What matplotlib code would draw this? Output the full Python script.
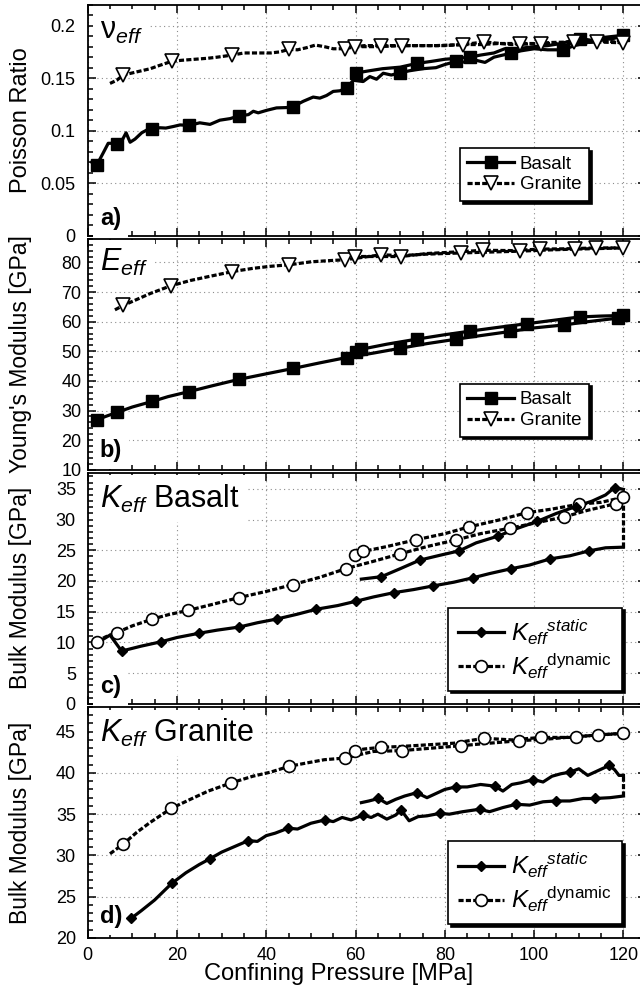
import matplotlib
matplotlib.use("Agg")
import matplotlib.pyplot as plt
import matplotlib.ticker as mpltick
from matplotlib.lines import Line2D

plt.rcParams["font.family"] = ["Liberation Sans", "DejaVu Sans"]
plt.rcParams["mathtext.fontset"] = "custom"
plt.rcParams["mathtext.rm"] = "Liberation Sans"
plt.rcParams["mathtext.it"] = "Liberation Sans:italic"
plt.rcParams["mathtext.bf"] = "Liberation Sans:bold"

# ---------------- a) Poisson ratio ----------------
a_bas_load_x = [0.9, 2.0, 3.5, 4.6, 5.8, 6.6, 7.6, 8.6, 9.5, 10.6, 12.1, 13.4, 14.5, 16.2, 17.5, 19.2,
                20.7, 22.7, 25.1, 27.4, 29.6, 31.9, 33.8, 36.0, 37.1, 38.2, 40.1, 42.3, 44.5, 46.0,
                48.3, 50.5, 52.0, 53.5, 55.0, 56.5, 58.0, 59.5, 61.7, 63.2, 64.7, 66.2, 68.0, 69.9,
                72.0, 75.0, 78.0, 80.0, 82.6, 85.0, 87.0, 89.0, 91.0, 93.0, 94.9, 97.0, 100.0, 103.0,
                106.5, 109.0, 112.0, 115.0, 118.0, 119.9]
a_bas_load_y = [0.070, 0.067, 0.079, 0.088, 0.088, 0.087, 0.090, 0.098, 0.089, 0.092, 0.098, 0.101,
                0.102, 0.1028, 0.1025, 0.104, 0.1055, 0.105, 0.1075, 0.106, 0.110, 0.1115, 0.114,
                0.1153, 0.1185, 0.117, 0.1194, 0.1217, 0.122, 0.123, 0.128, 0.132, 0.131, 0.1335,
                0.1374, 0.138, 0.1405, 0.148, 0.1468, 0.1515, 0.149, 0.1547, 0.153, 0.155, 0.157,
                0.159, 0.160, 0.163, 0.166, 0.165, 0.167, 0.165, 0.170, 0.172, 0.1736, 0.176, 0.178,
                0.177, 0.177, 0.181, 0.184, 0.186, 0.188, 0.1908]
a_bas_unl_x = [119.9, 116.0, 113.0, 110.2, 106.0, 103.0, 100.0, 96.0, 93.4, 91.0, 88.0, 85.6, 83.0,
               80.0, 77.0, 73.7, 70.0, 66.0, 63.0, 60.2]
a_bas_unl_y = [0.1908, 0.189, 0.186, 0.1877, 0.183, 0.181, 0.180, 0.178, 0.178, 0.174, 0.172, 0.170,
               0.169, 0.168, 0.166, 0.164, 0.1605, 0.159, 0.157, 0.155]
a_bas_mk_x = [2.0, 6.6, 14.5, 22.7, 33.8, 46.0, 58.0, 60.2, 69.9, 73.7, 82.6, 85.6, 94.9, 106.5, 110.2, 119.9]
a_bas_mk_y = [0.067, 0.087, 0.102, 0.105, 0.114, 0.123, 0.1405, 0.155, 0.155, 0.164, 0.166, 0.170,
              0.1736, 0.177, 0.1877, 0.1908]

a_gra_load_x = [5.0, 6.5, 8.0, 10.0, 12.0, 14.0, 16.0, 18.8, 21.0, 24.0, 27.0, 29.0, 32.4, 35.0, 38.0,
                41.0, 43.0, 45.1, 47.0, 49.0, 51.0, 53.0, 55.0, 57.6, 60.0, 62.0, 65.8, 70.0, 75.0,
                80.0, 84.0, 88.0, 92.0, 96.8, 100.0, 104.0, 109.0, 113.0, 117.0, 120.0]
a_gra_load_y = [0.145, 0.148, 0.153, 0.155, 0.157, 0.159, 0.162, 0.166, 0.167, 0.168, 0.169, 0.170,
                0.172, 0.174, 0.174, 0.174, 0.175, 0.1774, 0.177, 0.179, 0.1815, 0.180, 0.178, 0.178,
                0.180, 0.181, 0.181, 0.181, 0.181, 0.181, 0.182, 0.182, 0.183, 0.183, 0.183, 0.184,
                0.1845, 0.185, 0.185, 0.1836]
a_gra_unl_x = [120.0, 114.0, 108.0, 101.5, 95.0, 88.8, 84.0, 78.0, 72.0, 70.4, 65.0, 59.8]
a_gra_unl_y = [0.1836, 0.1845, 0.183, 0.183, 0.182, 0.1845, 0.182, 0.181, 0.181, 0.181, 0.180, 0.180]
a_gra_mk_x = [8.0, 18.8, 32.4, 45.1, 57.6, 59.8, 65.8, 70.4, 84.0, 88.8, 96.8, 101.5, 109.0, 114.0, 120.0]
a_gra_mk_y = [0.153, 0.166, 0.172, 0.1774, 0.178, 0.180, 0.181, 0.181, 0.182, 0.1845, 0.183, 0.183,
              0.1845, 0.1845, 0.1836]

# ---------------- b) Young's modulus ----------------
b_bas_load_x = [1.3, 2.0, 4.0, 6.6, 10.0, 14.5, 18.0, 22.7, 28.0, 33.8, 40.0, 46.0, 52.0, 58.0, 64.0,
                69.9, 76.0, 82.6, 88.0, 94.7, 100.0, 106.7, 112.0, 118.8, 120.0]
b_bas_load_y = [26.3, 26.8, 28.0, 29.4, 31.2, 33.1, 34.7, 36.4, 38.4, 40.5, 42.4, 44.2, 46.1, 47.9,
                49.4, 51.0, 52.6, 54.1, 55.3, 56.7, 57.9, 58.9, 60.0, 61.2, 61.6]
b_bas_unl_x = [120.0, 115.0, 110.2, 104.0, 98.3, 92.0, 85.6, 80.0, 73.7, 67.0, 61.3, 60.2]
b_bas_unl_y = [62.1, 61.9, 61.6, 60.4, 59.3, 58.1, 56.8, 55.6, 54.1, 52.4, 50.7, 49.6]
b_bas_mk_x = [2.0, 6.6, 14.5, 22.7, 33.8, 46.0, 58.0, 60.2, 61.3, 69.9, 73.7, 82.6, 85.6, 94.7, 98.3,
              106.7, 110.2, 118.8, 120.0]
b_bas_mk_y = [26.8, 29.4, 33.1, 36.4, 40.5, 44.2, 47.9, 49.6, 50.7, 51.0, 54.1, 54.1, 56.8, 56.7, 59.3,
              58.9, 61.6, 61.2, 62.1]

b_gra_load_x = [6.1, 8.0, 11.0, 14.0, 18.6, 23.0, 27.0, 32.4, 37.0, 41.0, 45.1, 50.0, 54.0, 57.6, 62.0,
                65.8, 70.0, 76.0, 83.7, 90.0, 96.8, 103.0, 109.1, 115.0, 119.9]
b_gra_load_y = [64.0, 65.5, 67.5, 69.5, 72.1, 73.9, 75.2, 76.9, 78.0, 78.7, 79.2, 80.2, 80.6, 80.9,
                81.8, 82.6, 82.3, 82.8, 83.2, 83.5, 83.8, 84.2, 84.5, 84.7, 84.9]
b_gra_unl_x = [119.9, 113.9, 107.0, 101.3, 95.0, 88.6, 82.0, 76.0, 70.2, 65.0, 59.8]
b_gra_unl_y = [84.9, 84.9, 84.6, 84.5, 84.0, 84.1, 83.5, 83.0, 82.0, 82.0, 82.0]
b_gra_mk_x = [8.0, 18.6, 32.4, 45.1, 57.6, 59.8, 65.8, 70.2, 83.7, 88.6, 96.8, 101.3, 109.1, 113.9, 119.9]
b_gra_mk_y = [65.5, 72.1, 76.9, 79.2, 80.9, 82.0, 82.6, 82.0, 83.2, 84.1, 83.8, 84.5, 84.5, 84.9, 84.9]

# ---------------- c) Bulk modulus, basalt ----------------
c_dyn_load_x = [2.0, 4.0, 6.5, 10.0, 14.5, 18.0, 22.4, 28.0, 33.9, 40.0, 45.9, 52.0, 57.8, 64.0, 69.9,
                76.0, 82.6, 88.0, 94.7, 100.0, 106.6, 112.0, 118.4, 119.9]
c_dyn_load_y = [10.1, 10.9, 11.6, 12.7, 13.8, 14.5, 15.2, 16.2, 17.3, 18.3, 19.4, 20.6, 22.0, 23.2,
                24.4, 25.6, 26.7, 27.7, 28.6, 29.4, 30.4, 31.5, 32.6, 33.6]
c_dyn_unl_x = [119.9, 115.0, 110.1, 104.0, 98.3, 92.0, 85.4, 80.0, 73.5, 67.0, 61.6, 59.8]
c_dyn_unl_y = [33.6, 32.8, 32.5, 31.7, 31.1, 29.9, 28.8, 27.7, 26.7, 25.6, 24.8, 24.2]
c_dyn_mk_x = [2.0, 6.5, 14.5, 22.4, 33.9, 45.9, 57.8, 59.8, 61.6, 69.9, 73.5, 82.6, 85.4, 94.7, 98.3,
              106.6, 110.1, 118.4, 119.9]
c_dyn_mk_y = [10.1, 11.6, 13.8, 15.2, 17.3, 19.4, 22.0, 24.2, 24.8, 24.4, 26.7, 26.7, 28.8, 28.6, 31.1,
              30.4, 32.5, 32.6, 33.6]

c_sta_low_x = [3.1, 5.0, 7.6, 12.0, 16.4, 20.0, 25.0, 29.0, 33.9, 38.0, 42.3, 47.0, 51.2, 56.0, 60.1,
               64.0, 68.6, 73.0, 77.4, 82.0, 86.2, 90.0, 94.9, 99.0, 103.6, 108.0, 112.3, 116.0, 120.0]
c_sta_low_y = [10.35, 11.2, 8.6, 9.4, 10.1, 10.8, 11.5, 12.0, 12.5, 13.2, 13.8, 14.6, 15.4, 16.0, 16.7,
               17.4, 18.1, 18.6, 19.2, 19.8, 20.5, 21.2, 22.0, 22.6, 23.6, 24.1, 24.9, 25.4, 25.5]
c_sta_up_x = [61.3, 65.8, 70.0, 74.4, 79.0, 83.2, 87.0, 91.9, 96.0, 100.7, 105.0, 109.3, 113.0, 116.0,
              118.0, 120.0]
c_sta_up_y = [20.3, 20.7, 22.0, 23.4, 24.2, 24.9, 26.2, 27.3, 28.5, 29.7, 31.0, 32.1, 33.0, 34.0, 35.2, 34.9]
c_sta_mk_x = [7.6, 16.4, 25.0, 33.9, 42.3, 51.2, 60.1, 65.8, 68.6, 74.4, 77.4, 83.2, 86.2, 91.9, 94.9,
              100.7, 103.6, 109.3, 112.3, 118.0]
c_sta_mk_y = [8.6, 10.1, 11.5, 12.5, 13.8, 15.4, 16.7, 20.7, 18.1, 23.4, 19.2, 24.9, 20.5, 27.3, 22.0,
              29.7, 23.6, 32.1, 24.9, 35.2]
c_gap_x = [120.0, 120.0]
c_gap_y = [25.5, 34.9]

# ---------------- d) Bulk modulus, granite ----------------
d_dyn_load_x = [5.0, 8.0, 11.0, 14.0, 18.7, 23.0, 27.0, 32.2, 37.0, 41.0, 45.1, 49.0, 53.0, 57.6, 64.0,
                70.3, 77.0, 83.7, 90.0, 96.6, 103.0, 109.3, 115.0, 120.0]
d_dyn_load_y = [30.2, 31.4, 32.8, 34.0, 35.7, 36.8, 37.8, 38.8, 39.6, 40.1, 40.8, 41.2, 41.6, 41.8,
                42.6, 42.7, 43.0, 43.3, 43.6, 43.9, 44.1, 44.4, 44.6, 44.8]
d_dyn_unl_x = [120.0, 114.2, 108.0, 101.5, 95.0, 88.8, 82.0, 76.0, 70.0, 65.7, 62.0, 59.8]
d_dyn_unl_y = [44.8, 44.6, 44.3, 44.3, 44.0, 44.2, 43.6, 43.4, 43.2, 43.1, 42.9, 42.7]
d_dyn_mk_x = [8.0, 18.7, 32.2, 45.1, 57.6, 59.8, 65.7, 70.3, 83.7, 88.8, 96.6, 101.5, 109.3, 114.2, 120.0]
d_dyn_mk_y = [31.4, 35.7, 38.8, 40.8, 41.8, 42.7, 43.1, 42.7, 43.3, 44.2, 43.9, 44.3, 44.4, 44.6, 44.8]

d_sta_low_x = [9.8, 12.0, 15.0, 18.8, 22.0, 25.0, 27.4, 30.0, 33.0, 36.0, 38.0, 40.0, 42.0, 44.9, 47.0,
               50.0, 53.1, 55.0, 57.0, 59.0, 61.7, 63.5, 65.0, 67.0, 69.0, 70.2, 72.0, 74.0, 76.0,
               78.9, 81.0, 84.0, 87.8, 90.0, 93.0, 96.0, 99.0, 102.0, 104.8, 108.0, 111.0, 113.6,
               117.0, 120.0]
d_sta_low_y = [22.4, 23.3, 24.6, 26.6, 27.9, 28.9, 29.6, 30.4, 31.1, 31.8, 31.7, 32.4, 32.7, 33.3, 33.2,
               33.9, 34.3, 34.1, 34.6, 34.3, 34.9, 34.6, 35.0, 34.4, 34.9, 35.5, 34.2, 34.7, 34.8,
               35.1, 35.0, 35.3, 35.6, 35.3, 35.8, 36.2, 36.1, 36.5, 36.6, 36.6, 36.9, 36.9, 37.0, 37.2]
d_sta_up_x = [61.3, 63.0, 65.1, 67.0, 69.0, 71.0, 73.7, 76.0, 78.0, 80.0, 82.5, 85.0, 88.0, 91.2, 93.0,
              95.0, 97.0, 99.8, 102.0, 104.0, 106.0, 108.1, 110.0, 112.0, 114.0, 116.8, 118.0, 119.0, 120.0]
d_sta_up_y = [36.4, 36.6, 36.9, 36.3, 36.8, 37.2, 37.6, 37.0, 37.5, 38.0, 38.3, 38.3, 38.6, 38.4, 37.8,
              38.6, 38.8, 39.2, 38.9, 39.6, 39.9, 40.1, 40.5, 39.7, 40.2, 40.9, 40.4, 39.7, 39.7]
d_sta_mk_x = [9.8, 18.8, 27.4, 36.0, 44.9, 53.1, 61.7, 65.1, 70.2, 73.7, 78.9, 82.5, 87.8, 91.2, 96.0,
              99.8, 104.8, 108.1, 113.6, 116.8]
d_sta_mk_y = [22.4, 26.6, 29.6, 31.8, 33.3, 34.3, 34.9, 36.9, 35.5, 37.6, 35.1, 38.3, 35.6, 38.4, 36.2,
              39.2, 36.6, 40.1, 36.9, 40.9]
d_gap_x = [120.0, 120.0]
d_gap_y = [37.2, 39.7]

# ---------------- styles ----------------
solid = dict(color="k", lw=2.3, ls="-", zorder=4)
dashed = dict(color="k", lw=2.3, ls=(0, (1.6, 0.7)), zorder=4)
sq = dict(ls="none", marker="s", ms=8, mfc="k", mec="k", zorder=5)
tri = dict(ls="none", marker="v", ms=10, mfc="white", mec="k", mew=1.2, zorder=5)
dia = dict(ls="none", marker="D", ms=5.5, mfc="k", mec="k", zorder=5)
circ = dict(ls="none", marker="o", ms=8.5, mfc="white", mec="k", mew=1.2, zorder=5)
white_box = dict(facecolor="white", edgecolor="none", pad=5)

fig, axs = plt.subplots(4, 1, sharex=True, figsize=(6.4, 9.89), dpi=100)
fig.subplots_adjust(left=0.137, right=1.009, top=0.9953, bottom=0.0516, hspace=0.013)


def style_axis(ax, ylim, major, ypad):
    ax.set_xlim(0, 125)
    ax.set_ylim(*ylim)
    ax.xaxis.set_major_locator(mpltick.MultipleLocator(20))
    ax.xaxis.set_minor_locator(mpltick.MultipleLocator(5))
    ax.yaxis.set_major_locator(mpltick.MultipleLocator(major))
    ax.yaxis.set_minor_locator(mpltick.AutoMinorLocator(5))
    ax.tick_params(which="both", direction="in", top=True, right=True, width=1.1, labelsize=13)
    ax.tick_params(which="major", length=6)
    ax.tick_params(which="minor", length=3.5)
    ax.tick_params(axis="y", pad=ypad)
    ax.tick_params(axis="x", pad=6.5)
    ax.grid(True, which="major", ls=(0, (1, 3)), lw=0.8, color="0.55")
    for s in ax.spines.values():
        s.set_linewidth(1.3)
    ax.yaxis.set_label_coords(-0.1, 0.5)


def legend(ax, handles, labels, anchor, size, hlen):
    leg = ax.legend(handles, labels, loc="upper left", bbox_to_anchor=anchor, borderaxespad=0,
                    fontsize=size, handlelength=hlen, fancybox=False, framealpha=1,
                    edgecolor="k", shadow={"color": "black", "alpha": 1}, labelspacing=0.2,
                    borderpad=0.4, handletextpad=0.3)
    leg.get_frame().set_linewidth(1.2)
    leg.set_zorder(10)


h_bas = Line2D([], [], color="k", lw=2.3, marker="s", ms=8)
h_gra = Line2D([], [], color="k", lw=2.3, ls=(0, (1.6, 0.7)), marker="v", ms=10, mfc="white", mew=1.2)
h_sta = Line2D([], [], color="k", lw=2.3, marker="D", ms=5.5)
h_dyn = Line2D([], [], color="k", lw=2.3, ls=(0, (1.6, 0.7)), marker="o", ms=8.5, mfc="white", mew=1.2)
k_labels = [r"$K_{eff}{}^{static}$", r"$K_{eff}{}^{\mathrm{dynamic}}$"]

# a)
ax = axs[0]
ax.plot(a_bas_load_x, a_bas_load_y, **solid)
ax.plot(a_bas_unl_x, a_bas_unl_y, **solid)
ax.plot(a_bas_mk_x, a_bas_mk_y, **sq)
ax.plot(a_gra_load_x, a_gra_load_y, **dashed)
ax.plot(a_gra_unl_x, a_gra_unl_y, **dashed)
ax.plot(a_gra_mk_x, a_gra_mk_y, **tri)
style_axis(ax, (0, 0.22), 0.05, 9)
ax.yaxis.set_major_formatter(mpltick.FuncFormatter(lambda v, p: f"{v:g}"))
ax.set_ylabel("Poisson Ratio", fontsize=17)
ax.text(0.022, 0.85, r"$\mathrm{\nu}_{eff}$", fontsize=22, transform=ax.transAxes, bbox=white_box)
ax.text(0.022, 0.045, "a)", fontsize=17, fontweight="bold", transform=ax.transAxes, bbox=white_box)
legend(ax, [h_bas, h_gra], ["Basalt", "Granite"], (0.667, 0.38), 13.5, 2.5)

# b)
ax = axs[1]
ax.plot(b_bas_load_x, b_bas_load_y, **solid)
ax.plot(b_bas_unl_x, b_bas_unl_y, **solid)
ax.plot(b_bas_mk_x, b_bas_mk_y, **sq)
ax.plot(b_gra_load_x, b_gra_load_y, **dashed)
ax.plot(b_gra_unl_x, b_gra_unl_y, **dashed)
ax.plot(b_gra_mk_x, b_gra_mk_y, **tri)
style_axis(ax, (10, 88), 10, 4.5)
ax.set_ylabel("Young's Modulus [GPa]", fontsize=16.5)
ax.text(0.022, 0.86, r"$E_{eff}$", fontsize=22, transform=ax.transAxes, bbox=white_box)
ax.text(0.022, 0.055, "b)", fontsize=17, fontweight="bold", transform=ax.transAxes, bbox=white_box)
legend(ax, [h_bas, h_gra], ["Basalt", "Granite"], (0.667, 0.373), 13.5, 2.5)

# c)
ax = axs[2]
ax.plot(c_dyn_load_x, c_dyn_load_y, **dashed)
ax.plot(c_dyn_unl_x, c_dyn_unl_y, **dashed)
ax.plot(c_gap_x, c_gap_y, **dashed)
ax.plot(c_dyn_mk_x, c_dyn_mk_y, **circ)
ax.plot(c_sta_low_x, c_sta_low_y, **solid)
ax.plot(c_sta_up_x, c_sta_up_y, **solid)
ax.plot(c_sta_mk_x, c_sta_mk_y, **dia)
style_axis(ax, (0, 37.6), 5, 8.5)
ax.set_ylabel("Bulk Modulus [GPa]", fontsize=16.5)
ax.text(0.022, 0.85, r"$K_{eff}$ Basalt", fontsize=22, transform=ax.transAxes, bbox=white_box)
ax.text(0.022, 0.048, "c)", fontsize=17, fontweight="bold", transform=ax.transAxes, bbox=white_box)
legend(ax, [h_sta, h_dyn], k_labels, (0.646, 0.417), 17.5, 1.9)

# d)
ax = axs[3]
ax.plot(d_dyn_load_x, d_dyn_load_y, **dashed)
ax.plot(d_dyn_unl_x, d_dyn_unl_y, **dashed)
ax.plot(d_gap_x, d_gap_y, **dashed)
ax.plot(d_dyn_mk_x, d_dyn_mk_y, **circ)
ax.plot(d_sta_low_x, d_sta_low_y, **solid)
ax.plot(d_sta_up_x, d_sta_up_y, **solid)
ax.plot(d_sta_mk_x, d_sta_mk_y, **dia)
style_axis(ax, (20, 48), 5, 8.5)
ax.set_ylabel("Bulk Modulus [GPa]", fontsize=16.5)
ax.text(0.022, 0.85, r"$K_{eff}$ Granite", fontsize=22, transform=ax.transAxes, bbox=white_box)
ax.text(0.022, 0.063, "d)", fontsize=17, fontweight="bold", transform=ax.transAxes, bbox=white_box)
legend(ax, [h_sta, h_dyn], k_labels, (0.646, 0.419), 17.5, 1.9)
ax.set_xlabel("Confining Pressure [MPa]", fontsize=17)
ax.xaxis.set_label_coords(0.45, -0.108)

fig.savefig("out.png", dpi=100)
